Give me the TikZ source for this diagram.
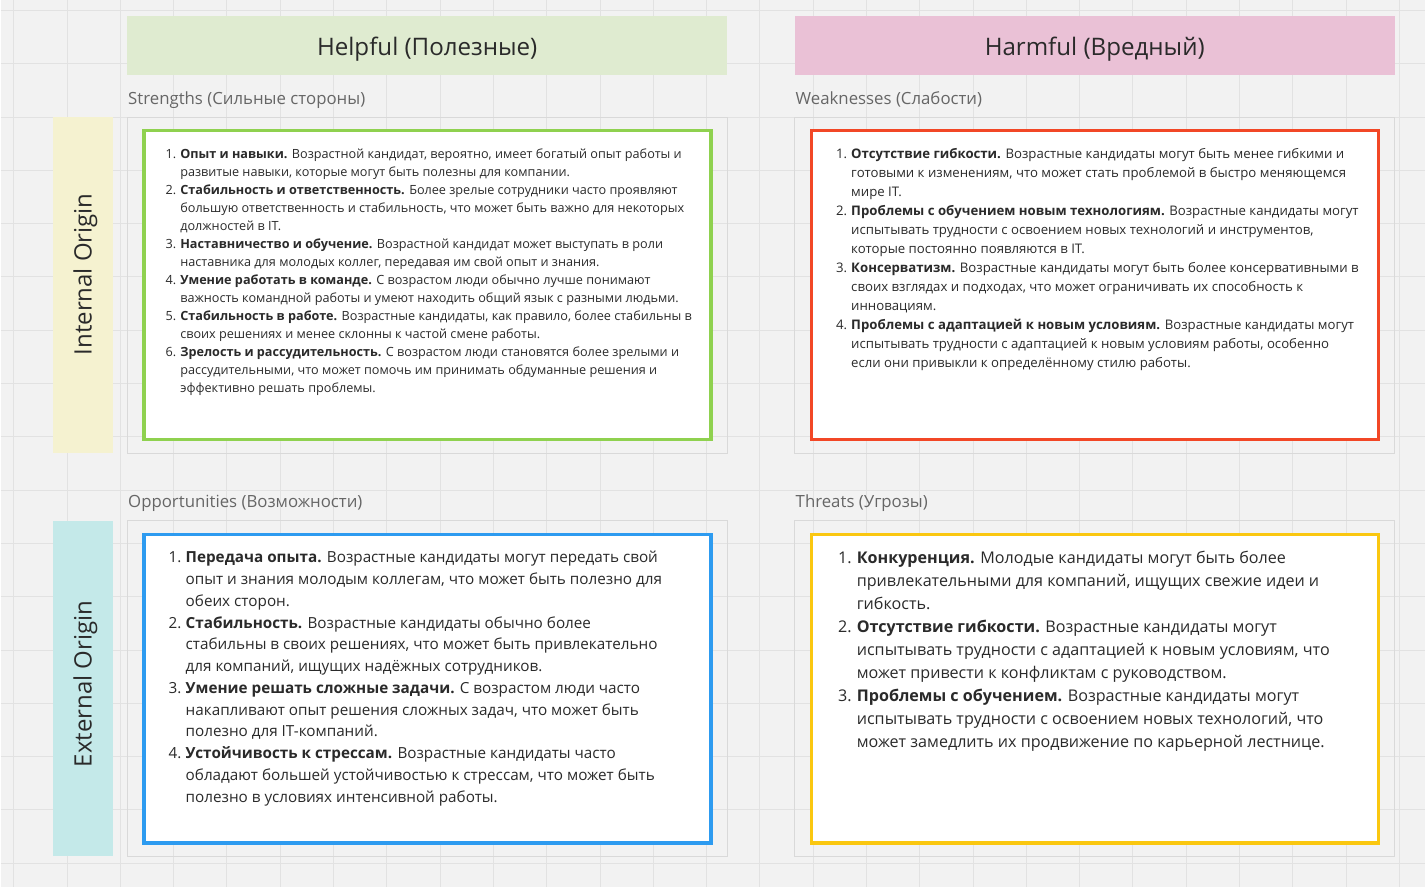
\documentclass[tikz,border=0pt]{standalone}
\usepackage{fontspec}
\setmainfont{Open Sans}
\usepackage{array}
\definecolor{bgc}{HTML}{F2F2F2}
\definecolor{gridc}{HTML}{E2E2E2}
\definecolor{framec}{HTML}{D9D9D9}
\definecolor{helpc}{HTML}{DFEBD0}
\definecolor{harmc}{HTML}{EAC1D6}
\definecolor{intc}{HTML}{F5F2D0}
\definecolor{extc}{HTML}{C4E9E9}
\definecolor{sgreen}{HTML}{8FD14F}
\definecolor{wred}{HTML}{F24726}
\definecolor{oblue}{HTML}{2D9BF0}
\definecolor{tyellow}{HTML}{FAC710}
\definecolor{labc}{HTML}{666666}
\definecolor{txtc}{HTML}{2A2A2A}
\newlength\swnumw
\newcommand\swotlist[2]{\setlength\swnumw{#1}\begin{tabular}[t]{@{}p{\swnumw}@{}l@{}}#2\end{tabular}}
\begin{document}
\begin{tikzpicture}[x=0.75pt,y=-0.75pt,
  header/.style={minimum width=450pt,minimum height=44.25pt,inner sep=0pt},
  headtext/.style={inner sep=0pt,font=\fontsize{18.1pt}{22pt}\selectfont,text=txtc},
  sidebar/.style={minimum width=45pt,minimum height=252pt,inner sep=0pt},
  sidetext/.style={rotate=90,inner sep=0pt,font=\fontsize{18pt}{22pt}\selectfont,text=txtc},
  seclabel/.style={anchor=base west,inner sep=0pt,font=\fontsize{12.6pt}{15pt}\selectfont,text=labc},
  frame/.style={draw=framec,line width=0.75pt,minimum width=450pt,minimum height=252pt,inner sep=0pt},
  card/.style={fill=white,line width=2.4pt,minimum width=425.6pt,minimum height=231.4pt,inner sep=0pt},
  smalltxt/.style={anchor=base west,inner sep=0pt,text=txtc,font=\fontsize{9.5pt}{13.5pt}\selectfont},
  bigtxt/.style={anchor=base west,inner sep=0pt,text=txtc,font=\fontsize{11.45pt}{16.36pt}\selectfont}
]
% background and grid
\fill[bgc] (0,0) rectangle (1425,887);
\foreach \k in {0,...,26} {\draw[gridc,line width=0.75pt] ({13.3+53.33*\k},0) -- ({13.3+53.33*\k},887);}
\foreach \k in {0,...,16} {\draw[gridc,line width=0.75pt] (0,{10+53.33*\k}) -- (1425,{10+53.33*\k});}
\useasboundingbox (0,0) rectangle (1425,887);

% headers
\node[header,fill=helpc] (helpful) at (427,45.5) {};
\node[headtext] (helpfultext) at (427,48.5) {Helpful (Полезные)};
\node[header,fill=harmc] (harmful) at (1095,45.5) {};
\node[headtext] (harmfultext) at (1095,48.5) {Harmful (Вредный)};

% side bars
\node[sidebar,fill=intc] (intbar) at (83,285) {};
\node[sidetext] (inttext) at (85,274) {Internal Origin};
\node[sidebar,fill=extc] (extbar) at (83,688.5) {};
\node[sidetext] (exttext) at (85,684) {External Origin};

% section labels
\node[seclabel] (lstr) at (127.5,104) {Strengths (Сильные стороны)};
\node[seclabel] (lweak) at (795.5,104) {Weaknesses (Слабости)};
\node[seclabel] (lopp) at (127.5,507) {Opportunities (Возможности)};
\node[seclabel] (lthr) at (795.5,507) {Threats (Угрозы)};

% frames
\node[frame] (fstr) at (427,285) {};
\node[frame] (fweak) at (1095,285) {};
\node[frame] (fopp) at (427,688.5) {};
\node[frame] (fthr) at (1095,688.5) {};

% cards
\node[card,draw=sgreen] (cstr) at (427.25,284.75) {};
\node[card,draw=wred] (cweak) at (1095.25,284.75) {};
\node[card,draw=oblue] (copp) at (427.25,688.75) {};
\node[card,draw=tyellow] (cthr) at (1095.25,688.75) {};

% texts
\node[smalltxt] (tstr) at (165,158) {\swotlist{11pt}{%
1. & \textbf{Опыт и навыки.} Возрастной кандидат, вероятно, имеет богатый опыт работы и\\
 & развитые навыки, которые могут быть полезны для компании.\\
2. & \textbf{Стабильность и ответственность.} Более зрелые сотрудники часто проявляют\\
 & большую ответственность и стабильность, что может быть важно для некоторых\\
 & должностей в IT.\\
3. & \textbf{Наставничество и обучение.} Возрастной кандидат может выступать в роли\\
 & наставника для молодых коллег, передавая им свой опыт и знания.\\
4. & \textbf{Умение работать в команде.} С возрастом люди обычно лучше понимают\\
 & важность командной работы и умеют находить общий язык с разными людьми.\\
5. & \textbf{Стабильность в работе.} Возрастные кандидаты, как правило, более стабильны в\\
 & своих решениях и менее склонны к частой смене работы.\\
6. & \textbf{Зрелость и рассудительность.} С возрастом люди становятся более зрелыми и\\
 & рассудительными, что может помочь им принимать обдуманные решения и\\
 & эффективно решать проблемы.}};

\node[smalltxt,font=\fontsize{9.9pt}{14.2pt}\selectfont] (tweak) at (836,158.5) {\swotlist{11.3pt}{%
1. & \textbf{Отсутствие гибкости.} Возрастные кандидаты могут быть менее гибкими и\\
 & готовыми к изменениям, что может стать проблемой в быстро меняющемся\\
 & мире IT.\\
2. & \textbf{Проблемы с обучением новым технологиям.} Возрастные кандидаты могут\\
 & испытывать трудности с освоением новых технологий и инструментов,\\
 & которые постоянно появляются в IT.\\
3. & \textbf{Консерватизм.} Возрастные кандидаты могут быть более консервативными в\\
 & своих взглядах и подходах, что может ограничивать их способность к\\
 & инновациям.\\
4. & \textbf{Проблемы с адаптацией к новым условиям.} Возрастные кандидаты могут\\
 & испытывать трудности с адаптацией к новым условиям работы, особенно\\
 & если они привыкли к определённому стилю работы.}};

\node[bigtxt] (topp) at (168,562.5) {\swotlist{12.8pt}{%
1. & \textbf{Передача опыта.} Возрастные кандидаты могут передать свой\\
 & опыт и знания молодым коллегам, что может быть полезно для\\
 & обеих сторон.\\
2. & \textbf{Стабильность.} Возрастные кандидаты обычно более\\
 & стабильны в своих решениях, что может быть привлекательно\\
 & для компаний, ищущих надёжных сотрудников.\\
3. & \textbf{Умение решать сложные задачи.} С возрастом люди часто\\
 & накапливают опыт решения сложных задач, что может быть\\
 & полезно для IT-компаний.\\
4. & \textbf{Устойчивость к стрессам.} Возрастные кандидаты часто\\
 & обладают большей устойчивостью к стрессам, что может быть\\
 & полезно в условиях интенсивной работы.}};

\node[bigtxt,font=\fontsize{12.1pt}{17.3pt}\selectfont] (tthr) at (838,563) {\swotlist{14pt}{%
1. & \textbf{Конкуренция.} Молодые кандидаты могут быть более\\
 & привлекательными для компаний, ищущих свежие идеи и\\
 & гибкость.\\
2. & \textbf{Отсутствие гибкости.} Возрастные кандидаты могут\\
 & испытывать трудности с адаптацией к новым условиям, что\\
 & может привести к конфликтам с руководством.\\
3. & \textbf{Проблемы с обучением.} Возрастные кандидаты могут\\
 & испытывать трудности с освоением новых технологий, что\\
 & может замедлить их продвижение по карьерной лестнице.}};
\end{tikzpicture}
\end{document}
